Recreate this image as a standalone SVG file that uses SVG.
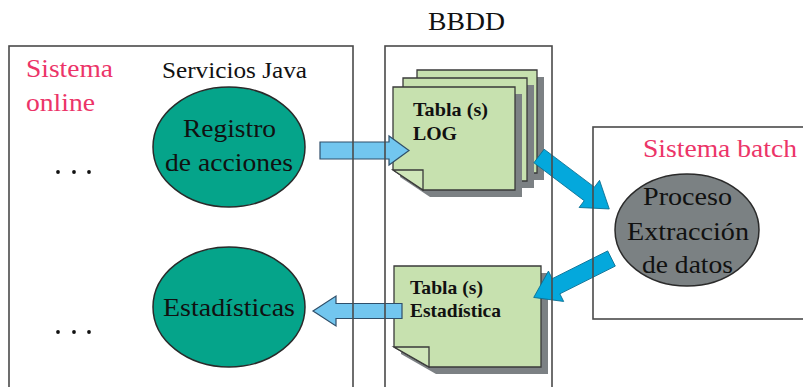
<svg xmlns="http://www.w3.org/2000/svg" width="803" height="387" viewBox="0 0 803 387">
<defs>
<style>
.frame{fill:none;stroke:#4a4a4a;stroke-width:1.6}
.serif{font-family:"Liberation Serif","Times New Roman",serif;fill:#111}
.big{font-size:26px}
.pink{fill:#EC3468}
.lbl{font-size:19.5px;font-weight:bold}
.sheet{fill:#C7E1AF;stroke:#3a3a3a;stroke-width:1.3}
.shadow{fill:#7c8184}
.fold{fill:#CFE6B9;stroke:#3a3a3a;stroke-width:1.3}
.teal{fill:#05A48A;stroke:#2a2a2a;stroke-width:1.5}
.grayell{fill:#7B8183;stroke:#2a2a2a;stroke-width:1.5}
.larrow{fill:#72C6EF;stroke:#2f4f6a;stroke-width:1.2}
.darrow{fill:#04A8DC;stroke:#0a6e92;stroke-width:0.8}
</style>
</defs>
<rect width="803" height="387" fill="#fff"/>

<g id="bbdd-title"><text class="serif big" x="428" y="30" textLength="77" lengthAdjust="spacingAndGlyphs">BBDD</text></g>

<g id="tabla-log">
<path class="shadow" d="M424,77 H544 V180 H454 L424,160 Z"/>
<path class="sheet" d="M417,70 H537 V173 H447 L417,153 Z"/>
<path class="shadow" d="M410,85 H534 V188 H440 L410,168 Z"/>
<path class="sheet" d="M403,78 H527 V181 H433 L403,161 Z"/>
<path class="shadow" d="M400,94 H522 V197 H430 L400,177 Z"/>
<path class="sheet" d="M393,87 H515 V190 H423 L393,170 Z"/>
<path class="fold" d="M393,170 H423 V190 Z"/>
<text class="serif lbl" x="413" y="116" textLength="75" lengthAdjust="spacingAndGlyphs">Tabla (s)</text>
<text class="serif lbl" x="413" y="140" textLength="44" lengthAdjust="spacingAndGlyphs">LOG</text>
</g>

<g id="tabla-estadistica">
<path class="shadow" d="M401,273 H548 V374 H436 L401,354 Z"/>
<path class="sheet" d="M394,266 H541 V367 H429 L394,347 Z"/>
<path class="fold" d="M394,347 H429 V367 Z"/>
<text class="serif lbl" x="410" y="294" textLength="73" lengthAdjust="spacingAndGlyphs">Tabla (s)</text>
<text class="serif lbl" x="410" y="317" textLength="91" lengthAdjust="spacingAndGlyphs">Estadística</text>
</g>

<g id="registro">
<ellipse class="teal" cx="229" cy="147" rx="76" ry="60"/>
<text class="serif big" x="183" y="137" textLength="93" lengthAdjust="spacingAndGlyphs">Registro</text>
<text class="serif big" x="165" y="171" textLength="128" lengthAdjust="spacingAndGlyphs">de acciones</text>
</g>

<g id="estadisticas">
<ellipse class="teal" cx="229" cy="307" rx="76" ry="60"/>
<text class="serif big" x="163" y="316" textLength="132" lengthAdjust="spacingAndGlyphs">Estadísticas</text>
</g>

<g id="proceso">
<ellipse class="grayell" cx="687" cy="230" rx="72" ry="56"/>
<text class="serif big" x="643" y="205" textLength="89" lengthAdjust="spacingAndGlyphs">Proceso</text>
<text class="serif big" x="627" y="240" textLength="122" lengthAdjust="spacingAndGlyphs">Extracción</text>
<text class="serif big" x="642" y="273" textLength="91" lengthAdjust="spacingAndGlyphs">de datos</text>
</g>

<g id="connectors">
<polygon class="larrow" points="320,142 389,142 389,136 409,150.5 389,165 389,159 320,159"/>
<polygon class="larrow" points="402,303.5 336,303.5 336,296 313,311 336,326 336,318.5 402,318.5"/>
<polygon class="darrow" transform="translate(539,156) rotate(37)" points="0,-8.5 63,-8.5 63,-17 88,0 63,17 63,8.5 0,8.5"/>
<polygon class="darrow" transform="translate(611.5,258.5) rotate(153.4)" points="0,-8.5 62,-8.5 62,-17 87,0 62,17 62,8.5 0,8.5"/>
</g>

<g id="sistema-online">
<rect class="frame" x="9" y="46" width="344" height="360"/>
<text class="serif big pink" x="26" y="77" textLength="87" lengthAdjust="spacingAndGlyphs">Sistema</text>
<text class="serif big pink" x="26" y="111" textLength="69" lengthAdjust="spacingAndGlyphs">online</text>
<text class="serif" font-size="24" x="162" y="78" textLength="145" lengthAdjust="spacingAndGlyphs">Servicios Java</text>
<g fill="#111">
<circle cx="58" cy="172" r="1.9"/><circle cx="74" cy="172" r="1.9"/><circle cx="89" cy="172" r="1.9"/>
<circle cx="58" cy="332" r="1.9"/><circle cx="74" cy="332" r="1.9"/><circle cx="89" cy="332" r="1.9"/>
</g>
</g>

<g id="bbdd">
<rect class="frame" x="385" y="46" width="167" height="360"/>
</g>

<g id="sistema-batch">
<rect class="frame" x="593" y="127" width="230" height="192"/>
<text class="serif big pink" x="643" y="157" textLength="154" lengthAdjust="spacingAndGlyphs">Sistema batch</text>
</g>
</svg>
